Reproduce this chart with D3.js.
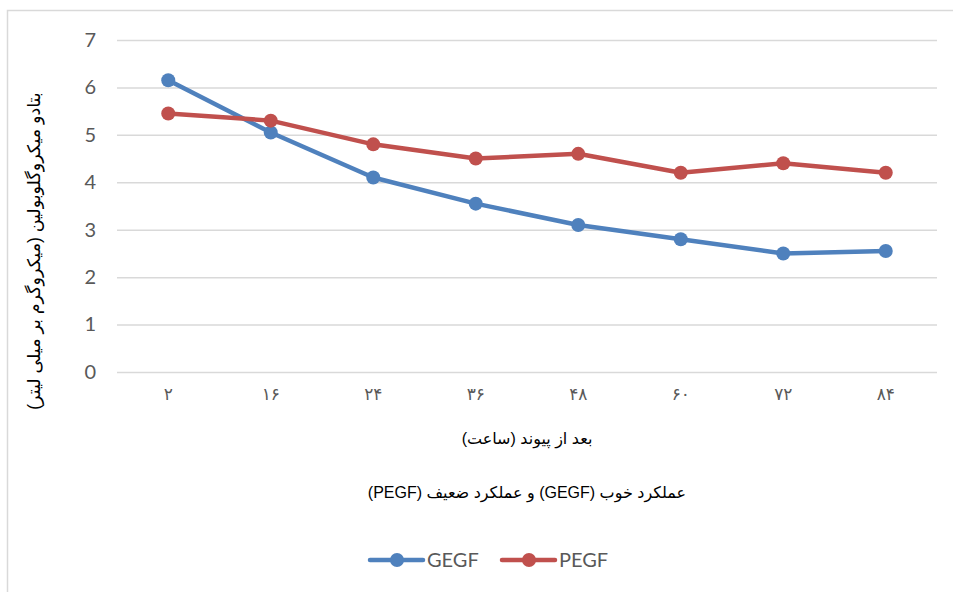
<!DOCTYPE html>
<html>
<head>
<meta charset="utf-8">
<script src="https://cdn.jsdelivr.net/npm/d3@7"></script>
<style>
    body { margin: 0; background: #fff; }
    svg { display: block; }
</style>
</head>
<body>
<div id="chartContainer"></div>
<script>
// Data
var categories = ['۲', '۱۶', '۲۴', '۳۶', '۴۸', '۶۰', '۷۲', '۸۴'];
var gegfValues = [6.15, 5.05, 4.1, 3.55, 3.1, 2.8, 2.5, 2.55];
var pegfValues = [5.45, 5.3, 4.8, 4.5, 4.6, 4.2, 4.4, 4.2];
var seriesNames = ['GEGF', 'PEGF'];
var yTicks = [0, 1, 2, 3, 4, 5, 6, 7];

var yTitle = 'بتادو میکروگلوبولین (میکروگرم بر میلی لیتر)';
var xTitle = 'بعد از پیوند (ساعت)';
var xSubTitle = 'عملکرد خوب (GEGF) و عملکرد ضعیف (PEGF)';

var width = 953;
var height = 592;

var plotLeft = 117;
var plotRight = 937;
var plotTop = 40;
var plotBottom = 372;

var colors = ['#4f81bd', '#c0504d'];
var textColor = '#595959';
var latinFont = 'Lato, Carlito, "Liberation Sans", sans-serif';
var arabicFont = '"Liberation Sans", "DejaVu Sans", sans-serif';

var svg = d3.select('#chartContainer').append('svg')
    .attr('width', width)
    .attr('height', height);

// chart border
svg.append('rect')
    .attr('x', 7.5)
    .attr('y', 10.5)
    .attr('width', 960)
    .attr('height', 600)
    .attr('fill', 'none')
    .attr('stroke', '#d9d9d9')
    .attr('stroke-width', 1.5);

var x = d3.scaleBand()
    .domain(categories)
    .range([plotLeft, plotRight]);

var y = d3.scaleLinear()
    .domain([0, 7])
    .range([plotBottom, plotTop]);

// gridlines
svg.append('g')
    .selectAll('line')
    .data(yTicks)
    .enter()
    .append('line')
    .attr('x1', plotLeft)
    .attr('x2', plotRight)
    .attr('y1', function (d) { return y(d) + 0.5; })
    .attr('y2', function (d) { return y(d) + 0.5; })
    .attr('stroke', '#d9d9d9')
    .attr('stroke-width', 1.5);

// y axis labels
var yAxis = d3.axisLeft(y).tickValues(yTicks).tickFormat(d3.format('d')).tickSize(0).tickPadding(0);
var yAxisGroup = svg.append('g')
    .attr('transform', 'translate(96,0)')
    .call(yAxis);
yAxisGroup.select('.domain').remove();
yAxisGroup.selectAll('text')
    .attr('font-family', latinFont)
    .attr('font-size', '20px')
    .attr('fill', textColor);

// x axis labels
var xAxis = d3.axisBottom(x).tickSize(0).tickPadding(0);
var xAxisGroup = svg.append('g')
    .attr('transform', 'translate(0,' + (plotBottom + 16) + ')')
    .call(xAxis);
xAxisGroup.select('.domain').remove();
xAxisGroup.selectAll('text')
    .attr('font-family', arabicFont)
    .attr('font-size', '17px')
    .attr('fill', textColor);

// axis titles
svg.append('text')
    .attr('x', (plotLeft + plotRight) / 2)
    .attr('y', 444)
    .attr('text-anchor', 'middle')
    .attr('direction', 'rtl')
    .attr('font-family', arabicFont)
    .attr('font-size', '16px')
    .attr('fill', '#000')
    .text(xTitle);

svg.append('text')
    .attr('x', (plotLeft + plotRight) / 2)
    .attr('y', 498)
    .attr('text-anchor', 'middle')
    .attr('direction', 'rtl')
    .attr('font-family', arabicFont)
    .attr('font-size', '16px')
    .attr('fill', '#000')
    .text(xSubTitle);

svg.append('text')
    .attr('transform', 'translate(40,251) rotate(-90)')
    .attr('text-anchor', 'middle')
    .attr('direction', 'rtl')
    .attr('font-family', arabicFont)
    .attr('font-size', '17.5px')
    .attr('fill', '#000')
    .text(yTitle);

// series
var series = [gegfValues, pegfValues];
var line = d3.line()
    .x(function (d, i) { return x(categories[i]) + x.bandwidth() / 2; })
    .y(function (d) { return y(d); });

series.forEach(function (values, s) {
    var g = svg.append('g');
    g.append('path')
        .datum(values)
        .attr('d', line)
        .attr('fill', 'none')
        .attr('stroke', colors[s])
        .attr('stroke-width', 4.5)
        .attr('stroke-linejoin', 'round')
        .attr('stroke-linecap', 'round');
    g.selectAll('circle')
        .data(values)
        .enter()
        .append('circle')
        .attr('cx', function (d, i) { return x(categories[i]) + x.bandwidth() / 2; })
        .attr('cy', function (d) { return y(d); })
        .attr('r', 7)
        .attr('fill', colors[s]);
});

// legend
var legendX = [370, 502];
seriesNames.forEach(function (name, s) {
    var lg = svg.append('g').attr('transform', 'translate(' + legendX[s] + ',560)');
    lg.append('line')
        .attr('x1', 0)
        .attr('x2', 53)
        .attr('y1', 0)
        .attr('y2', 0)
        .attr('stroke', colors[s])
        .attr('stroke-width', 4.5)
        .attr('stroke-linecap', 'round');
    lg.append('circle')
        .attr('cx', 27)
        .attr('cy', 0)
        .attr('r', 7)
        .attr('fill', colors[s]);
    lg.append('text')
        .attr('x', 57)
        .attr('y', 7)
        .attr('font-family', latinFont)
        .attr('font-size', '20px')
        .attr('fill', textColor)
        .text(name);
});
</script>
</body>
</html>
